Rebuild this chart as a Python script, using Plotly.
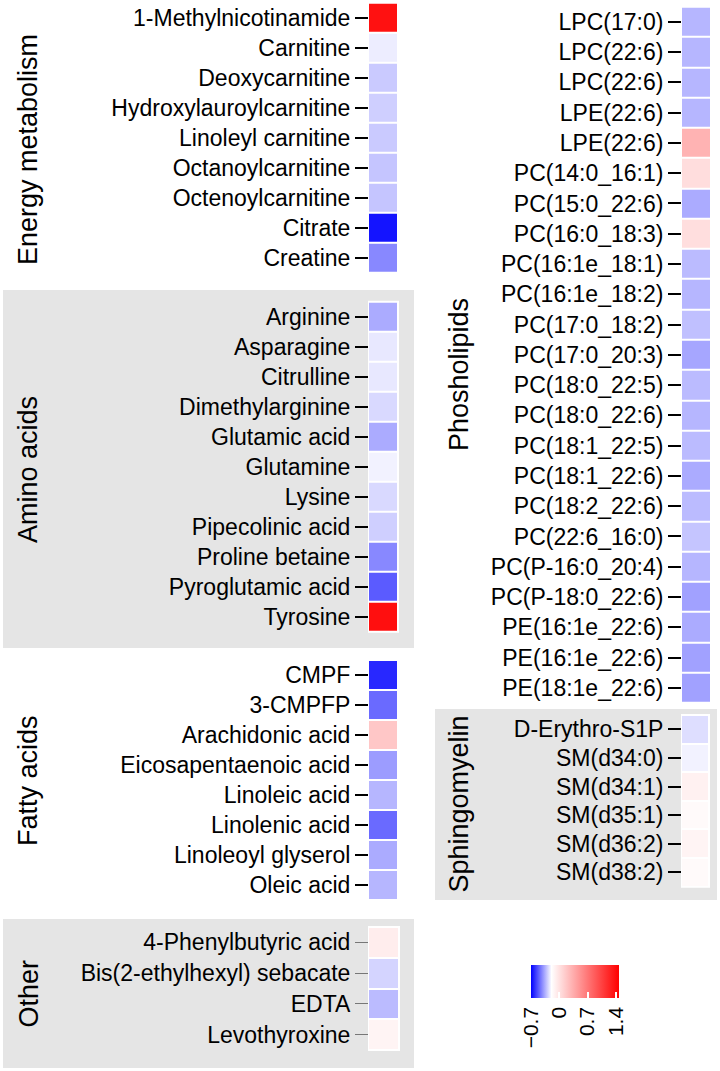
import plotly.graph_objects as go

# ---------------- data ----------------
energy_labels = ["1-Methylnicotinamide", "Carnitine", "Deoxycarnitine", "Hydroxylauroylcarnitine",
                 "Linoleyl carnitine", "Octanoylcarnitine", "Octenoylcarnitine", "Citrate", "Creatine"]
energy_values = [1.36, -0.23, -0.30, -0.29, -0.30, -0.31, -0.31, -0.66, -0.43]

amino_labels = ["Arginine", "Asparagine", "Citrulline", "Dimethylarginine", "Glutamic acid", "Glutamine",
                "Lysine", "Pipecolinic acid", "Proline betaine", "Pyroglutamic acid", "Tyrosine"]
amino_values = [-0.36, -0.24, -0.24, -0.27, -0.36, -0.22, -0.27, -0.29, -0.43, -0.52, 1.37]

fatty_labels = ["CMPF", "3-CMPFP", "Arachidonic acid", "Eicosapentaenoic acid", "Linoleic acid",
                "Linolenic acid", "Linoleoyl glyserol", "Oleic acid"]
fatty_values = [-0.62, -0.49, 0.17, -0.39, -0.34, -0.49, -0.36, -0.34]

other_labels = ["4-Phenylbutyric acid", "Bis(2-ethylhexyl) sebacate", "EDTA", "Levothyroxine"]
other_values = [-0.08, -0.28, -0.33, -0.12]

phospho_labels = ["LPC(17:0)", "LPC(22:6)", "LPC(22:6)", "LPE(22:6)", "LPE(22:6)", "PC(14:0_16:1)",
                  "PC(15:0_22:6)", "PC(16:0_18:3)", "PC(16:1e_18:1)", "PC(16:1e_18:2)", "PC(17:0_18:2)",
                  "PC(17:0_20:3)", "PC(18:0_22:5)", "PC(18:0_22:6)", "PC(18:1_22:5)", "PC(18:1_22:6)",
                  "PC(18:2_22:6)", "PC(22:6_16:0)", "PC(P-16:0_20:4)", "PC(P-18:0_22:6)",
                  "PE(16:1e_22:6)", "PE(16:1e_22:6)", "PE(18:1e_22:6)"]
phospho_values = [-0.34, -0.34, -0.34, -0.34, 0.30, 0.03, -0.36, 0.02, -0.33, -0.34, -0.32,
                  -0.37, -0.33, -0.34, -0.33, -0.36, -0.33, -0.31, -0.34, -0.38, -0.36, -0.38, -0.38]

sphingo_labels = ["D-Erythro-S1P", "SM(d34:0)", "SM(d34:1)", "SM(d35:1)", "SM(d36:2)", "SM(d38:2)"]
sphingo_values = [-0.26, -0.22, -0.10, -0.16, -0.12, -0.16]

group_names = ["Energy metabolism", "Amino acids", "Fatty acids", "Other", "Phosholipids", "Sphingomyelin"]

colorbar_ticks = [-0.7, 0, 0.7, 1.4]
colorbar_text = ["\u22120.7", "0", "0.7", "1.4"]

# ---------------- layout geometry (pixels) ----------------
W, H = 720, 1071
FONT = "Arial, Liberation Sans, sans-serif"


def fx(p):
    return p / W


def fy(p):
    return 1 - p / H


groups = [
    # labels, values, cell x0, x1, y0, y1, label x, label y, gray panel (x0,y0,x1,y1) or None
    (energy_labels, energy_values, 369, 398, 2.7, 272.7, 28.5, 149.5, None),
    (amino_labels, amino_values, 369, 398, 301.7, 631.7, 28, 470, (3, 290, 414, 648)),
    (fatty_labels, fatty_values, 369, 398, 660, 900, 28, 781, None),
    (other_labels, other_values, 369, 399, 927, 1050, 28, 993.5, (3, 919, 414, 1068)),
    (phospho_labels, phospho_values, 682, 711, 6.7, 703, 459, 374, None),
    (sphingo_labels, sphingo_values, 682, 709, 715, 886.7, 458, 804.5, (435, 709, 717, 900)),
]

fig = go.Figure()
shapes = []
annotations = []
layout_axes = {}

# gray panels first
for g in groups:
    panel = g[8]
    if panel is not None:
        shapes.append(dict(type="rect", xref="paper", yref="paper", layer="below",
                           x0=fx(panel[0]), x1=fx(panel[2]), y0=fy(panel[3]), y1=fy(panel[1]),
                           fillcolor="#e5e5e5", line=dict(width=0)))

for i, (labels, values, x0, x1, y0, y1, lx, ly, panel) in enumerate(groups):
    n = len(labels)
    suf = "" if i == 0 else str(i + 1)
    fig.add_trace(go.Heatmap(
        z=[[v] for v in values], x=[0], y=list(range(n)),
        coloraxis="coloraxis", xgap=1, ygap=2,
        xaxis="x" + suf, yaxis="y" + suf,
        text=[[l] for l in labels], hovertemplate="%{text}: %{z}<extra></extra>",
    ))
    # white background behind cells
    shapes.append(dict(type="rect", xref="paper", yref="paper", layer="below",
                       x0=fx(x0 - 1), x1=fx(x1 + 1), y0=fy(y1 + 1), y1=fy(y0 - 1),
                       fillcolor="white", line=dict(width=0)))
    is_other = (i == 3)
    layout_axes["xaxis" + suf] = dict(domain=[fx(x0), fx(x1)], range=[-0.5, 0.5], visible=False,
                                      anchor="y" + suf, fixedrange=True)
    layout_axes["yaxis" + suf] = dict(
        domain=[fy(y1), fy(y0)], anchor="x" + suf, range=[n - 0.5, -0.5],
        tickmode="array", tickvals=list(range(n)), ticktext=labels,
        ticks="outside", ticklen=13, tickwidth=1 if is_other else 2,
        tickcolor="#777777" if is_other else "black",
        showgrid=False, zeroline=False, showline=False, automargin=False,
        tickfont=dict(family=FONT, size=23, color="black"), fixedrange=True,
    )
    annotations.append(dict(text=group_names[i], xref="paper", yref="paper", x=fx(lx), y=fy(ly),
                            xanchor="center", yanchor="middle", showarrow=False, textangle=-90,
                            font=dict(family=FONT, size=27, color="black")))

fig.update_layout(
    width=W, height=H, autosize=False,
    margin=dict(l=0, r=0, t=0, b=0, pad=0),
    template="none",
    paper_bgcolor="white", plot_bgcolor="white",
    showlegend=False,
    shapes=shapes, annotations=annotations,
    coloraxis=dict(
        colorscale=[[0, "#0000ff"], [0.233, "#ffffff"], [1, "#ff0000"]],
        cmin=-0.7, cmax=1.47,
        colorbar=dict(
            orientation="h", x=fx(574.85), xanchor="center", y=fy(965), yanchor="top",
            len=88.3, lenmode="pixels", thickness=33, thicknessmode="pixels",
            xpad=0, ypad=0, outlinewidth=0,
            tickmode="array", tickvals=colorbar_ticks, ticktext=colorbar_text,
            ticks="inside", ticklen=6, tickcolor="white", tickwidth=1.5,
            tickangle=-90, tickfont=dict(family=FONT, size=21, color="black"),
        ),
    ),
    **layout_axes,
)

fig.write_html("out.html", config={"displayModeBar": False},
               post_script="document.body.style.margin='0';document.body.style.padding='0';")
